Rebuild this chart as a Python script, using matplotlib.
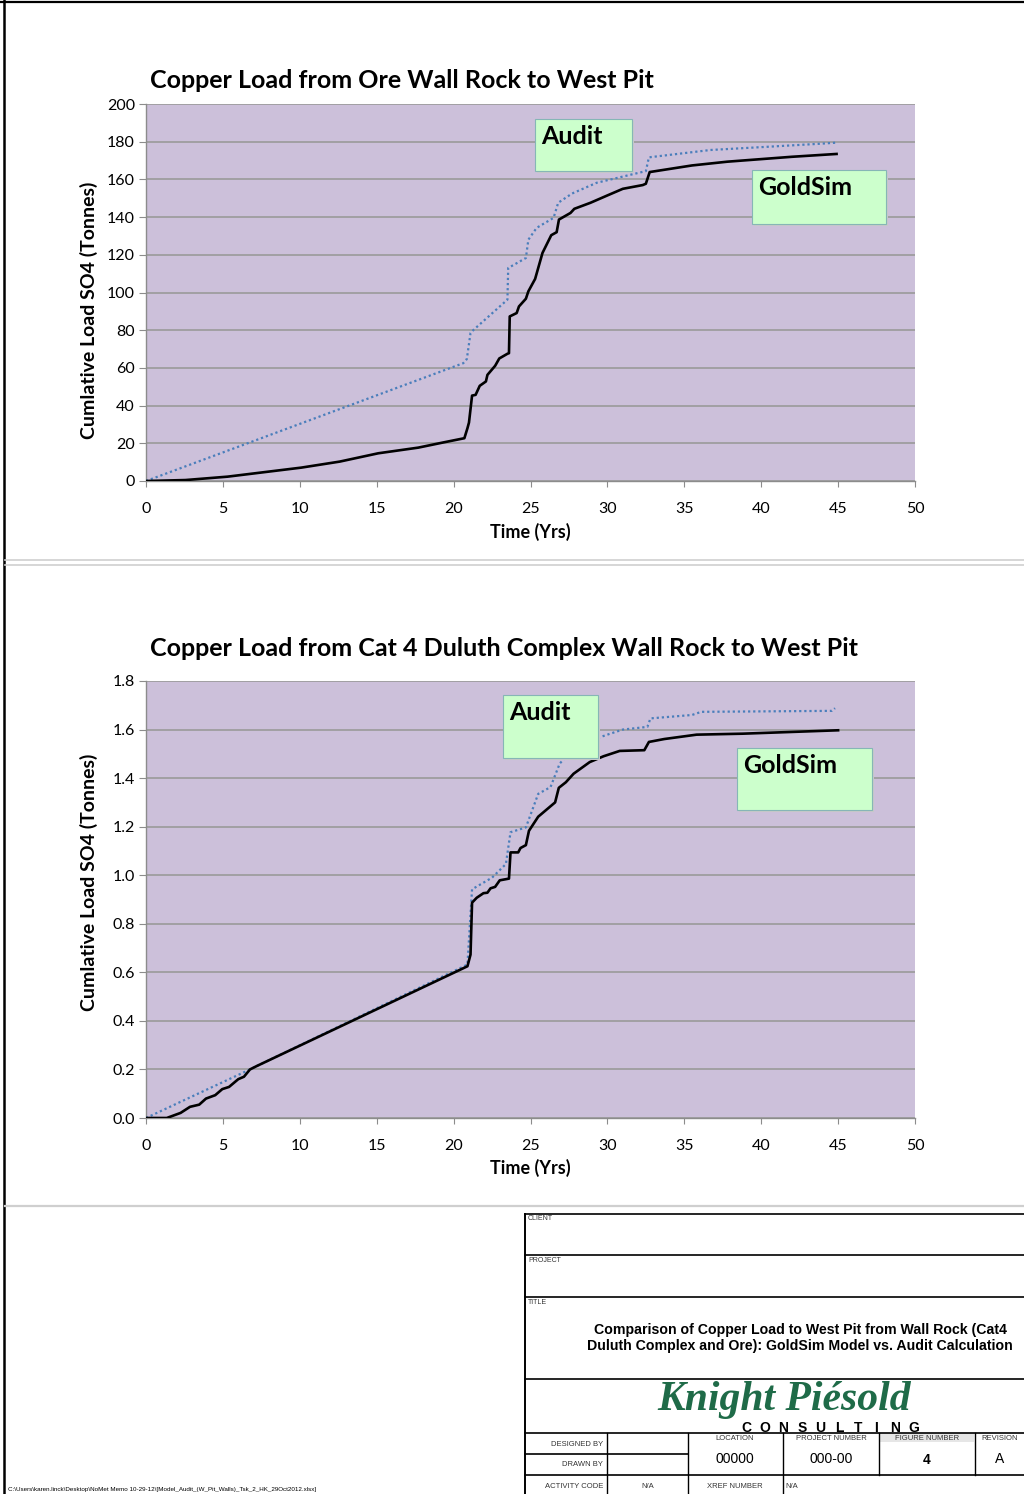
import matplotlib.pyplot as plt
from matplotlib.patches import Rectangle
from matplotlib.lines import Line2D
import numpy as np

# --- chart 1: copper load from ore wall rock (tonnes) ---
t_gold1 = [0, 2.56, 5.3, 7.6, 10.1, 12.6, 15.1, 17.7, 19.3, 20.7, 20.9, 21.0, 21.2, 21.43,
           21.7, 22.1, 22.2, 22.7, 22.97, 23.5, 23.6, 23.65, 24.1, 24.25, 24.7, 24.86, 25.3,
           25.78, 26.35, 26.7, 26.85, 27.6, 27.85, 28.9, 30.0, 31.0, 32.3, 32.5, 32.75, 35.5,
           37.8, 42.0, 44.9]
gold1 = [0, 0.5, 2.3, 4.6, 7.1, 10.3, 14.7, 17.7, 20.4, 22.7, 28, 31, 45.3, 45.7,
         50.5, 52.8, 56.3, 61.1, 65, 67.5, 67.8, 87.3, 89.1, 92.6, 96.7, 100.6, 107.2,
         121, 130.4, 132, 138.7, 142.2, 144.4, 147.6, 151.5, 155, 157, 157.7, 163.9, 167.4,
         169.4, 172, 173.5]
t_audit1 = [0, 10.1, 20.63, 20.86, 21.1, 21.3, 23.5, 23.55, 24.7, 24.86, 25.4, 26.5, 26.8,
            27.7, 29.3, 32.5, 32.7, 36.7, 40.4, 44.0, 44.9]
audit1 = [0, 30.6, 62.5, 64.7, 78.5, 80.2, 96.2, 113, 118.3, 128, 134.3, 139.6, 147.6,
          152.5, 158.2, 164.4, 171.7, 175.6, 177.3, 179, 179.5]

# --- chart 2: copper load from Cat 4 Duluth Complex wall rock (tonnes) ---
t_gold2 = [0, 1.35, 2.25, 2.86, 3.46, 3.9, 4.5, 4.96, 5.4, 6.0, 6.37, 6.76, 7.2, 20.9,
           21.1, 21.2, 21.5, 21.94, 22.2, 22.4, 22.7, 23.0, 23.6, 23.7, 24.2, 24.35, 24.7,
           24.9, 25.5, 26.6, 26.84, 27.3, 27.8, 28.85, 29.75, 30.8, 32.4, 32.7, 33.7, 35.8,
           38.8, 45.0]
gold2 = [0, 0, 0.021, 0.046, 0.055, 0.08, 0.094, 0.119, 0.128, 0.16, 0.17, 0.2, 0.214, 0.625,
         0.673, 0.887, 0.907, 0.926, 0.928, 0.946, 0.952, 0.979, 0.986, 1.094, 1.094, 1.112, 1.124,
         1.183, 1.241, 1.3, 1.36, 1.383, 1.418, 1.466, 1.49, 1.512, 1.515, 1.549, 1.561, 1.579,
         1.583, 1.597]
t_audit2 = [0, 2.7, 6.76, 7.2, 20.9, 21.2, 22.5, 23.4, 23.7, 24.7, 25.5, 26.3, 26.9, 27.5,
            28.5, 29.9, 31.0, 32.6, 32.8, 35.5, 36.1, 44.6, 44.8]
audit2 = [0, 0.08, 0.2, 0.214, 0.632, 0.942, 0.99, 1.046, 1.177, 1.197, 1.335, 1.363, 1.46, 1.5,
          1.545, 1.577, 1.6, 1.611, 1.646, 1.66, 1.673, 1.677, 1.688]

x_ticks = np.arange(0, 55, 5)
y_ticks1 = np.arange(0, 220, 20)
y_ticks2 = np.arange(0, 2.0, 0.2)

W, H = 1024, 1494
CH = 'Lato'
AR = 'Liberation Sans'


def fx(x):
    return x / W


def fy(y):
    return 1 - y / H


fig = plt.figure(figsize=(W / 100, H / 100), dpi=100)


def make_axes(top, bottom, yticks, fmt):
    ax = fig.add_axes([fx(146), fy(bottom), (915 - 146) / W, (bottom - top) / H])
    ax.set_facecolor('#CCC0DA')
    ax.set_xlim(0, 50)
    ax.set_ylim(yticks[0], yticks[-1])
    ax.set_xticks(x_ticks)
    ax.set_yticks(yticks)
    ax.set_yticklabels([fmt.format(v) for v in yticks])
    ax.grid(axis='y', color='#9a9a9a', lw=1.2)
    ax.set_axisbelow(True)
    for s in ['top', 'right']:
        ax.spines[s].set_visible(False)
    for s in ['left', 'bottom']:
        ax.spines[s].set_color('#8c8c8c')
        ax.spines[s].set_linewidth(1.0)
    ax.tick_params(axis='x', length=4, color='#8c8c8c', pad=11, labelsize=11.5)
    ax.tick_params(axis='y', length=5, color='#8c8c8c', pad=3, labelsize=11.5)
    for lab in ax.get_xticklabels() + ax.get_yticklabels():
        lab.set_fontfamily(CH)
    return ax


def note_box(x0, y0, x1, y1, label):
    fig.add_artist(Rectangle((fx(x0 + 2), fy(y1 + 2)), (x1 - x0) / W, (y1 - y0) / H,
                             fc='#c8c8c8', ec='none', zorder=5))
    fig.add_artist(Rectangle((fx(x0), fy(y1)), (x1 - x0) / W, (y1 - y0) / H,
                             fc='#CCFFCC', ec='#86b6b6', lw=0.8, zorder=6))
    fig.text(fx(x0 + 6), fy(y0 + 6), label, fontsize=18, fontweight='bold',
             family=CH, ha='left', va='top', zorder=7)


# chart 1
ax1 = make_axes(104, 481, y_ticks1, '{:.0f}')
ax1.plot(t_audit1, audit1, color='#4A7EBB', lw=1.6, linestyle=(0, (1, 1.3)), zorder=3)
ax1.plot(t_gold1, gold1, color='black', lw=1.9, zorder=4)
fig.text(fx(150), fy(80), 'Copper Load from Ore Wall Rock to West Pit', fontsize=18,
         fontweight='bold', family=CH, ha='left', va='center')
fig.text(fx(530), fy(532), 'Time (Yrs)', fontsize=13, fontweight='bold', family=CH,
         ha='center', va='center')
fig.text(fx(89), fy(310), 'Cumlative Load SO4 (Tonnes)', fontsize=14, fontweight='bold',
         family=CH, rotation=90, ha='center', va='center')
note_box(535, 119, 632, 171, 'Audit')
note_box(752, 170, 886, 224, 'GoldSim')

# chart 2
ax2 = make_axes(681, 1118, y_ticks2, '{:.1f}')
ax2.plot(t_audit2, audit2, color='#4A7EBB', lw=1.6, linestyle=(0, (1, 1.3)), zorder=3)
ax2.plot(t_gold2, gold2, color='black', lw=1.9, zorder=4)
fig.text(fx(150), fy(648), 'Copper Load from Cat 4 Duluth Complex Wall Rock to West Pit',
         fontsize=18, fontweight='bold', family=CH, ha='left', va='center')
fig.text(fx(530), fy(1168), 'Time (Yrs)', fontsize=13, fontweight='bold', family=CH,
         ha='center', va='center')
fig.text(fx(89), fy(882), 'Cumlative Load SO4 (Tonnes)', fontsize=14, fontweight='bold',
         family=CH, rotation=90, ha='center', va='center')
note_box(503, 695, 598, 758, 'Audit')
note_box(737, 748, 872, 810, 'GoldSim')


# page frame and separators
def hline(y, x0, x1, color='black', lw=1.2):
    fig.add_artist(Line2D([fx(x0), fx(x1)], [fy(y), fy(y)], color=color, lw=lw))


def vline(x, y0, y1, color='black', lw=1.2):
    fig.add_artist(Line2D([fx(x), fx(x)], [fy(y0), fy(y1)], color=color, lw=lw))


hline(2, 0, W, lw=1.6)
vline(4, 0, H, lw=1.8)
hline(560, 5, W, color='#cfcfcf', lw=1.2)
hline(565, 5, W, color='#cfcfcf', lw=1.2)
hline(1206, 5, W, color='#cfcfcf', lw=1.6)

# title block
vline(525, 1214, H, lw=1.4)
for y in [1214, 1255, 1297, 1379, 1433, 1475]:
    hline(y, 525, W, lw=1.2)
hline(1454, 525, 688, lw=1.2)
for x in [607, 688, 783]:
    vline(x, 1433, H, lw=1.0)
for x in [879, 975]:
    vline(x, 1433, 1475, lw=1.0)
fig.add_artist(Rectangle((fx(880), fy(1442)), 94 / W, 9 / H, fc='#e6e6e6', ec='none'))

small = dict(family=AR, fontsize=5, color='#333333')
fig.text(fx(528), fy(1219), 'CLIENT', ha='left', va='center', **small)
fig.text(fx(528), fy(1261), 'PROJECT', ha='left', va='center', **small)
fig.text(fx(528), fy(1302), 'TITLE', ha='left', va='center', **small)
fig.text(fx(800), fy(1338),
         'Comparison of Copper Load to West Pit from Wall Rock (Cat4\n'
         'Duluth Complex and Ore): GoldSim Model vs. Audit Calculation',
         family=AR, fontsize=10.2, fontweight='bold', ha='center', va='center', linespacing=1.2)

fig.text(fx(784), fy(1410), 'Knight Piésold', family='Liberation Serif', fontsize=30,
         fontweight='bold', style='italic', color='#1f6b48', ha='center', va='baseline')
for i, ch in enumerate('CONSULTING'):
    fig.text(fx(746 + i * 18.6), fy(1428), ch, family=AR, fontsize=10, fontweight='bold',
             ha='center', va='center')

tb = dict(family=AR, fontsize=5.5, color='#333333', va='center')
fig.text(fx(603), fy(1444), 'DESIGNED BY', ha='right', **tb)
fig.text(fx(603), fy(1465), 'DRAWN BY', ha='right', **tb)
fig.text(fx(603), fy(1486), 'ACTIVITY CODE', ha='right', **tb)
fig.text(fx(648), fy(1486), 'N/A', ha='center', **tb)
fig.text(fx(735), fy(1486), 'XREF NUMBER', ha='center', **tb)
fig.text(fx(785), fy(1486), 'N/A', ha='left', **tb)
fig.text(fx(735), fy(1438), 'LOCATION', ha='center', **tb)
fig.text(fx(831), fy(1438), 'PROJECT NUMBER', ha='center', **tb)
fig.text(fx(927), fy(1438), 'FIGURE NUMBER', ha='center', **tb)
fig.text(fx(1000), fy(1438), 'REVISION', ha='center', **tb)
big = dict(family=AR, fontsize=10, ha='center', va='center')
fig.text(fx(735), fy(1459), '00000', **big)
fig.text(fx(831), fy(1459), '000-00', **big)
fig.text(fx(927), fy(1460), '4', fontweight='bold', **big)
fig.text(fx(1000), fy(1459), 'A', **big)

fig.text(fx(8), fy(1489),
         'C:\\Users\\karen.linck\\Desktop\\NoMet Memo 10-29-12\\'
         '[Model_Audit_(W_Pit_Walls)_Tsk_2_HK_29Oct2012.xlsx]',
         family=AR, fontsize=4.5, ha='left', va='center')

fig.savefig('out.png', dpi=100)
